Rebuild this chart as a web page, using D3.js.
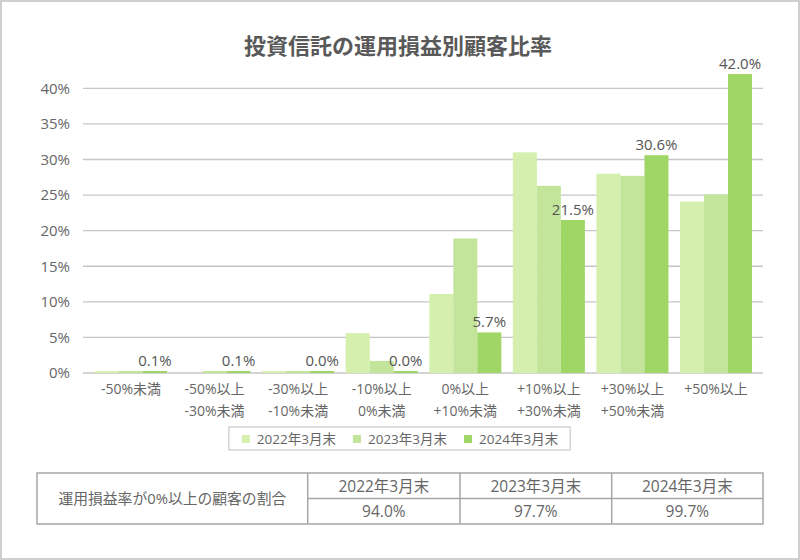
<!DOCTYPE html>
<html><head><meta charset="utf-8">
<script src="https://cdn.jsdelivr.net/npm/d3@7/dist/d3.min.js"></script>
<style>
html,body{margin:0;padding:0;background:#fff;}
svg text{font-family:"Open Sans","Noto Sans CJK JP",sans-serif;}
svg text.cjk{font-family:"Noto Sans CJK JP",sans-serif;}
</style></head>
<body><svg id="c" width="800" height="560"></svg>
<script>
const title = "投資信託の運用損益別顧客比率";
const categories = [
  ["-50%未満"], ["-50%以上","-30%未満"], ["-30%以上","-10%未満"], ["-10%以上","0%未満"],
  ["0%以上","+10%未満"], ["+10%以上","+30%未満"], ["+30%以上","+50%未満"], ["+50%以上"]
];
const seriesNames = ["2022年3月末","2023年3月末","2024年3月末"];
const values2022 = [0.1, 0.0, 0.1, 5.6, 11.1, 31.0, 28.0, 24.1];
const values2023 = [0.1, 0.1, 0.1, 1.7, 18.9, 26.3, 27.7, 25.1];
const values2024 = [0.1, 0.1, 0.04, 0.04, 5.7, 21.5, 30.6, 42.0];
const yTicks = [0, 5, 10, 15, 20, 25, 30, 35, 40];
const colors = ["#d5efaf", "#c3e59b", "#a0d665"];
const tableLabel = "運用損益率が0%以上の顧客の割合";
const tableValues = ["94.0%", "97.7%", "99.7%"];

const series = [values2022, values2023, values2024];
const svg = d3.select("#c");
svg.append("rect").attr("x",1).attr("y",1).attr("width",798).attr("height",558)
  .attr("fill","#fff").attr("stroke","#cfcfcf").attr("stroke-width",2);

svg.append("text").attr("class","cjk").attr("x",398).attr("y",54).attr("text-anchor","middle")
  .attr("font-size",22).attr("font-weight",700).attr("fill","#595959").text(title);

const y = d3.scaleLinear().domain([0,40]).range([373,88.3]);
const x0 = d3.scaleBand().domain(d3.range(categories.length)).range([89.2,757.8])
  .paddingInner(0.138).paddingOuter(0.069);
const x1 = d3.scaleBand().domain(d3.range(series.length)).range([0,x0.bandwidth()]);

// grid
const g = svg.append("g");
g.selectAll("line.grid").data(yTicks).join("line")
  .attr("x1",83).attr("x2",763).attr("y1",d=>y(d)).attr("y2",d=>y(d))
  .attr("stroke","#c6c6c6").attr("stroke-width",1.3);
g.selectAll("text.yt").data(yTicks).join("text")
  .attr("x",70).attr("y",d=>y(d)).attr("dy","0.36em").attr("text-anchor","end")
  .attr("font-size",15).attr("fill","#666").text(d=>d+"%");

// bars
const groups = svg.append("g").selectAll("g").data(categories.map((c,i)=>i)).join("g")
  .attr("transform",i=>`translate(${x0(i)},0)`);
groups.selectAll("rect").data(i=>series.map((s,k)=>({k,v:s[i]}))).join("rect")
  .attr("x",d=>x1(d.k)).attr("width",x1.bandwidth())
  .attr("y",d=>{const h=y(0)-y(d.v); return d.v>0? y(0)-Math.max(2,h) : y(0);})
  .attr("height",d=>{const h=y(0)-y(d.v); return d.v>0? Math.max(2,h) : 0;})
  .attr("fill",d=>colors[d.k]);

// data labels for 2024
svg.append("g").selectAll("text").data(values2024).join("text")
  .attr("x",(v,i)=>x0(i)+x1(2)+x1.bandwidth()/2)
  .attr("y",v=>Math.min(y(v), y(0)-2)-5)
  .attr("text-anchor","middle").attr("font-size",15).attr("fill","#555")
  .text(v=>v.toFixed(1)+"%");

// category labels
const cl = svg.append("g").selectAll("text").data(categories).join("text")
  .attr("text-anchor","middle").attr("font-size",14).attr("fill","#666");
cl.each(function(lines,i){
  const t=d3.select(this);
  lines.forEach((ln,j)=>{
    t.append("tspan").attr("x",x0(i)+x0.bandwidth()/2).attr("y",394+j*22).text(ln);
  });
});

// legend
const lg = svg.append("g");
const box = lg.append("rect").attr("y",427).attr("height",23).attr("fill","#fff")
  .attr("stroke","#cfcfcf").attr("stroke-width",1.3);
let cx = 0;
seriesNames.forEach((n,k)=>{
  const it = lg.append("g");
  it.append("rect").attr("x",cx).attr("y",435).attr("width",8).attr("height",8).attr("fill",colors[k]);
  const t = it.append("text").attr("x",cx+15).attr("y",444).attr("font-size",13.5).attr("fill","#666").text(n);
  const w = t.node().getComputedTextLength();
  cx += 15 + w + 17;
});
const contentW = cx - 17;
const startX = 400 - contentW/2;
lg.selectAll("g").attr("transform",`translate(${startX},0)`);
box.attr("x",startX-13).attr("width",contentW+25);

// table
const tx = [37, 307.7, 460, 611.7, 763];
const tyTop = 473, tyMid = 498.5, tyBot = 524;
const tb = svg.append("g");
tb.append("rect").attr("x",tx[0]).attr("y",tyTop).attr("width",tx[4]-tx[0]).attr("height",tyBot-tyTop)
  .attr("fill","none").attr("stroke","#a6a6a6").attr("stroke-width",1.5);
tb.selectAll("line.v").data(tx.slice(1,4)).join("line")
  .attr("x1",d=>d).attr("x2",d=>d).attr("y1",tyTop).attr("y2",tyBot)
  .attr("stroke","#a6a6a6").attr("stroke-width",1.5);
tb.append("line").attr("x1",tx[1]).attr("x2",tx[4]).attr("y1",tyMid).attr("y2",tyMid)
  .attr("stroke","#a6a6a6").attr("stroke-width",1.5);
tb.append("text").attr("x",(tx[0]+tx[1])/2).attr("y",(tyTop+tyBot)/2).attr("dy","0.36em")
  .attr("text-anchor","middle").attr("font-size",14.8).attr("fill","#666").text(tableLabel);
seriesNames.forEach((n,k)=>{
  const c=(tx[k+1]+tx[k+2])/2;
  tb.append("text").attr("x",c).attr("y",(tyTop+tyMid)/2+0.5).attr("dy","0.36em")
    .attr("text-anchor","middle").attr("font-size",15.5).attr("fill","#666").text(n);
  tb.append("text").attr("x",c).attr("y",(tyMid+tyBot)/2).attr("dy","0.36em")
    .attr("text-anchor","middle").attr("font-size",15.5).attr("fill","#666").text(tableValues[k]);
});
</script></body></html>
